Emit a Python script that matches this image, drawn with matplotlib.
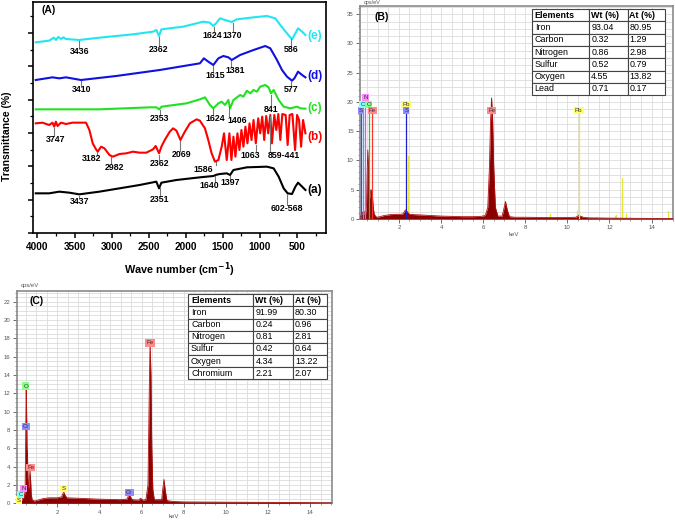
import numpy as np
import matplotlib
matplotlib.use("Agg")
import matplotlib.pyplot as plt
from matplotlib.ticker import MultipleLocator

plt.rcParams['font.family'] = ['Liberation Sans', 'DejaVu Sans']

# ---------------- Panel A : FTIR data ----------------
wn_a = [4023, 3842, 3706, 3571, 3436, 3165, 2894, 2623, 2397, 2361, 2329, 2126, 1810, 1629, 1584,
        1539, 1448, 1403, 1358, 1177, 907, 816, 748, 681, 627, 568, 523, 487, 432, 387]
tr_a = [11.9, 11.9, 12.4, 12.1, 11.6, 12.4, 13.4, 14.4, 15.4, 13.4, 15.1, 15.9, 16.7, 17.1, 17.5,
        17.7, 17.9, 17.4, 18.9, 19.7, 19.9, 19.4, 16.9, 13.4, 11.9, 11.7, 13.9, 15.1, 13.9, 12.9]

wn_b = [4023, 3932, 3842, 3797, 3774, 3752, 3729, 3684, 3616, 3526, 3345, 3300, 3255, 3210, 3187,
        3142, 3097, 3029, 2984, 2894, 2803, 2713, 2623, 2532, 2442, 2406, 2361, 2329, 2284, 2216,
        2171, 2126, 2072, 2013, 1945, 1855, 1810, 1742, 1697, 1652, 1607, 1561, 1516, 1485, 1448,
        1412, 1385, 1358, 1331, 1304, 1277, 1250, 1223, 1196, 1169, 1141, 1114, 1087, 1056, 1024,
        997, 970, 943, 916, 889, 861, 839, 807, 780, 753, 726, 699, 654, 627, 600, 563, 527, 500,
        473, 446, 419, 387]
tr_b = [32.9, 33.1, 32.4, 33.1, 31.9, 33.4, 32.1, 33.1, 32.7, 33.1, 33.1, 30.9, 26.9, 25.1, 24.4,
        25.9, 25.4, 23.4, 22.9, 23.7, 23.9, 24.4, 24.1, 24.1, 25.1, 26.1, 23.9, 25.9, 27.9, 30.4,
        31.4, 30.7, 27.9, 30.4, 32.9, 34.1, 33.7, 31.4, 27.9, 23.9, 21.4, 21.9, 25.9, 29.9, 21.9,
        29.9, 21.9, 28.9, 22.9, 29.9, 24.9, 30.9, 25.9, 31.9, 26.9, 32.9, 27.9, 33.9, 26.9, 34.4,
        29.9, 34.9, 27.9, 35.1, 29.9, 35.4, 26.9, 35.4, 30.9, 35.7, 27.9, 35.7, 35.4, 26.4, 35.4,
        35.7, 24.9, 35.4, 33.9, 25.9, 33.9, 29.9]

wn_c = [4023, 3165, 2487, 2397, 2361, 2325, 2261, 1990, 1810, 1742, 1674, 1629, 1561, 1516, 1471,
        1426, 1403, 1358, 1268, 1223, 1177, 1132, 1087, 1042, 997, 929, 884, 852, 816, 748, 681,
        591, 500, 455, 387]
tr_c = [37.1, 37.1, 37.7, 37.7, 37.1, 37.9, 38.1, 38.9, 40.1, 40.7, 38.4, 37.4, 38.9, 39.4, 38.4,
        39.9, 37.4, 39.9, 41.4, 40.9, 42.7, 41.9, 42.9, 42.4, 43.9, 44.4, 43.7, 41.9, 42.9, 39.9, 37.9,
        37.4, 37.9, 37.4, 37.3]

wn_d = [4023, 3797, 3706, 3616, 3413, 2939, 2352, 1810, 1756, 1697, 1629, 1561, 1494, 1426, 1381,
        1268, 1087, 929, 861, 771, 703, 636, 568, 536, 487, 432, 387]
tr_d = [45.9, 46.7, 46.4, 46.7, 45.9, 47.1, 48.9, 50.9, 52.4, 51.4, 50.4, 52.4, 53.1, 52.7, 51.9,
        53.4, 54.9, 56.1, 55.4, 51.9, 48.9, 46.9, 45.7, 46.4, 48.4, 47.4, 46.7]

wn_e = [4023, 3842, 3780, 3750, 3720, 3680, 3650, 3616, 3436, 3165, 2713, 2442, 2397, 2361, 2329,
        2036, 1765, 1674, 1629, 1584, 1539, 1471, 1381, 1313, 1087, 907, 794, 726, 636, 568, 523,
        487, 432, 387]
tr_e = [57.2, 57.7, 58.6, 57.9, 58.8, 58.2, 58.7, 58.2, 57.9, 58.6, 59.6, 60.4, 60.9, 59.1, 61.1,
        61.9, 63.4, 63.1, 62.1, 63.1, 64.4, 63.9, 63.3, 64.1, 64.7, 65.1, 64.4, 62.4, 59.9, 58.1, 59.9,
        61.4, 60.4, 59.4]

curve_names = ['(a)', '(b)', '(c)', '(d)', '(e)']
curve_colors = ['black', '#ff0000', '#22e022', '#1010e0', '#22e5f2']

# (curve index, label, line wavenumber, label wavenumber, label y)
peak_labels = [
    (4, '3436', 3436, 3436, 54.4), (4, '2362', 2362, 2362, 55.1), (4, '1624', 1624, 1640, 59.4),
    (4, '1370', 1370, 1370, 59.4), (4, '586', 586, 586, 55.1),
    (3, '3410', 3410, 3410, 43.1), (3, '1615', 1638, 1607, 47.1), (3, '1381', 1394, 1330, 48.7),
    (3, '577', 577, 577, 42.9),
    (2, '2353', 2353, 2353, 34.4), (2, '1624', 1638, 1607, 34.4), (2, '1406', 1412, 1300, 33.7),
    (2, '841', 852, 852, 37.1),
    (1, '3747', 3774, 3752, 27.9), (1, '3182', 3201, 3264, 22.4), (1, '2982', 3006, 2961, 19.6),
    (1, '2362', 2361, 2352, 20.9), (1, '2069', 2075, 2058, 23.6), (1, '1586', 1590, 1770, 19.2),
    (1, '1063', 1056, 1132, 23.4), (1, '859-441', 861, 681, 23.4),
    (0, '3437', 3437, 3437, 9.4), (0, '2351', 2351, 2351, 10.1), (0, '1640', 1600, 1683, 14.4),
    (0, '1397', 1403, 1403, 15.1), (0, '602-568', 636, 636, 7.4),
]

# ---------------- Panel B : EDS spectrum ----------------
kev_b = [0.15, 0.20, 0.25, 0.28, 0.32, 0.36, 0.39, 0.42, 0.46, 0.49, 0.52, 0.55, 0.58, 0.62, 0.66,
         0.70, 0.74, 0.78, 0.82, 0.88, 0.95, 1.1, 1.3, 1.6, 1.9, 2.1, 2.2, 2.28, 2.33, 2.4, 2.5, 2.7,
         3.0, 3.5, 4.0, 4.5, 5.0, 5.5, 5.9, 6.1, 6.22, 6.3, 6.35, 6.40, 6.45, 6.5, 6.58, 6.7, 6.9,
         6.97, 7.06, 7.15, 7.25, 7.5, 8.0, 9.0, 10.0, 10.4, 10.5, 10.55, 10.62, 10.75, 11.0, 12.0,
         13.0, 14.0, 15.0]
cps_b = [0.3, 0.6, 0.9, 1.2, 0.8, 1.0, 1.4, 1.0, 2.5, 8.0, 11.8, 9.0, 4.5, 3.5, 5.0,
         4.9, 3.8, 2.0, 0.9, 0.5, 0.3, 0.4, 0.6, 0.75, 0.8, 0.8, 0.9, 1.4, 1.6, 1.2, 0.8, 0.75,
         0.7, 0.6, 0.5, 0.45, 0.4, 0.4, 0.45, 0.6, 2.0, 9.0, 16.5, 20.7, 17.0, 9.0, 2.0, 0.5, 0.5,
         1.5, 3.0, 1.5, 0.4, 0.3, 0.3, 0.25, 0.25, 0.3, 0.5, 0.6, 0.5, 0.3, 0.2, 0.15,
         0.12, 0.1, 0.08]

# element markers in B: (label, keV, label height, box colour, line colour, draw line)
marks_b = [('S', 0.20, 18.6, '#8c8cff', '#4040ff', True), ('C', 0.27, 19.6, '#80ffff', '#00c8e0', True),
           ('N', 0.41, 20.7, '#ff88ff', '#ff40ff', True), ('O', 0.56, 19.6, '#88ff88', '#20d020', True),
           ('Fe', 0.73, 18.6, '#ff8888', '#ff3030', True), ('Pb', 2.35, 19.6, '#ffff66', None, False),
           ('S', 2.35, 18.6, '#8c8cff', '#2020d0', True), ('Fe', 6.41, 18.6, '#ff8888', None, False),
           ('Pb', 10.54, 18.6, '#ffff66', '#e8e840', True)]
# small yellow (Pb) reference lines: keV, height
pb_lines_kev = [1.83, 2.45, 2.52, 2.68, 3.1, 3.2, 9.18, 10.45, 11.35, 12.25, 12.31, 12.6, 12.62, 12.8, 13.0, 14.76]
pb_lines_h = [0.8, 10.7, 0.5, 0.5, 0.4, 0.4, 0.9, 1.3, 0.3, 0.5, 0.7, 4.5, 7.0, 0.9, 0.4, 1.4]

table_b_rows = [['Iron', '93.04', '80.95'], ['Carbon', '0.32', '1.29'], ['Nitrogen', '0.86', '2.98'],
                ['Sulfur', '0.52', '0.79'], ['Oxygen', '4.55', '13.82'], ['Lead', '0.71', '0.17']]

# ---------------- Panel C : EDS spectrum ----------------
kev_c = [0.07, 0.20, 0.26, 0.30, 0.36, 0.39, 0.43, 0.47, 0.50, 0.52, 0.54, 0.56, 0.58, 0.60, 0.63,
         0.67, 0.70, 0.73, 0.76, 0.80, 0.90, 1.0, 1.3, 1.6, 2.0, 2.2, 2.27, 2.31, 2.36, 2.45, 3.0,
         4.0, 5.0, 5.3, 5.38, 5.42, 5.47, 5.55, 5.85, 5.95, 6.05, 6.2, 6.3, 6.36, 6.40, 6.44, 6.48,
         6.53, 6.6, 6.95, 7.0, 7.06, 7.12, 7.2, 7.5, 8.0, 10.0, 12.0, 15.0]
cps_c = [0.1, 0.2, 0.5, 0.3, 0.6, 1.0, 0.6, 1.5, 8.0, 12.7, 10.0, 6.0, 5.5, 3.0, 1.5,
         2.5, 3.6, 2.5, 1.0, 0.4, 0.25, 0.3, 0.5, 0.6, 0.6, 0.7, 1.1, 1.2, 0.9, 0.6, 0.55,
         0.45, 0.4, 0.45, 0.85, 0.9, 0.7, 0.4, 0.35, 0.55, 0.35, 0.4, 2.0, 12.0, 17.6, 14.0, 6.0,
         1.5, 0.4, 0.4, 1.5, 2.6, 1.4, 0.3, 0.2, 0.15, 0.12, 0.1, 0.05]

marks_c = [('S', 0.18, 0.35, '#ffff66'), ('C', 0.26, 1.0, '#80ffff'), ('N', 0.39, 1.6, '#ff88ff'),
           ('Fe', 0.73, 3.9, '#ff8888'), ('Cr', 0.51, 8.4, '#8c8cff'), ('O', 0.51, 12.8, '#88ff88'),
           ('S', 2.29, 1.6, '#ffff66'), ('Cr', 5.42, 1.2, '#8c8cff'), ('Fe', 6.40, 17.5, '#ff8888')]

table_c_rows = [['Iron', '91.99', '80.30'], ['Carbon', '0.24', '0.96'], ['Nitrogen', '0.81', '2.81'],
                ['Sulfur', '0.42', '0.64'], ['Oxygen', '4.34', '13.22'], ['Chromium', '2.21', '2.07']]
table_header = ['Elements', 'Wt (%)', 'At (%)']

# =====================================================
W, H = 675, 520
fig = plt.figure(figsize=(W / 100, H / 100), dpi=100)


def ax_px(l, t, r, b):
    return fig.add_axes([l / W, 1 - b / H, (r - l) / W, (b - t) / H])


# ---------------- Panel A ----------------
axA = ax_px(33, 2, 326, 233)
wns = [wn_a, wn_b, wn_c, wn_d, wn_e]
trs = [tr_a, tr_b, tr_c, tr_d, tr_e]
for i in range(5):
    axA.plot(wns[i], trs[i], color=curve_colors[i], lw=1.5, solid_joinstyle='round')
axA.set_xlim(4060, 110)
axA.set_ylim(0, 69.3)
axA.xaxis.set_major_locator(MultipleLocator(500))
axA.xaxis.set_minor_locator(MultipleLocator(250))
axA.yaxis.set_major_locator(MultipleLocator(10))
axA.yaxis.set_minor_locator(MultipleLocator(5))
axA.set_xticks([4000, 3500, 3000, 2500, 2000, 1500, 1000, 500])
axA.set_yticklabels([])
axA.tick_params(axis='x', which='major', length=3.5, width=1.1, labelsize=7.2, pad=3)
axA.tick_params(axis='both', which='minor', length=2, width=0.9)
axA.tick_params(axis='y', which='major', length=3.5, width=1.1)
for lab in axA.get_xticklabels():
    lab.set_fontweight('bold')
for s in axA.spines.values():
    s.set_linewidth(1.2)
axA.set_xlabel('Wave number (cm$^{\\mathbf{-1}}$)', fontsize=7.8, fontweight='bold', labelpad=6)
axA.set_ylabel('Transmittance (%)', fontsize=7.5, fontweight='bold')
axA.yaxis.set_label_coords(-0.07, 0.42)
axA.text(0.03, 0.965, '(A)', transform=axA.transAxes, fontsize=7.5, fontweight='bold', va='center')

label_y = [12.9, 28.9, 37.5, 47.0, 59.1]
for i in range(5):
    axA.text(262, label_y[i], curve_names[i], color=curve_colors[i], fontsize=8.5,
             fontweight='bold', va='center', ha='center')

for ci, txt, wl, wt, ly in peak_labels:
    wv = wns[ci][::-1]
    tv = trs[ci][::-1]
    yc = np.interp(wl, wv, tv) - 0.4
    axA.plot([wl, wl], [yc, ly + 1.1], color='#777777', lw=0.8)
    axA.text(wt, ly, txt, fontsize=6.3, fontweight='bold', ha='center', va='center')


# ---------------- EDS helper ----------------
def style_eds(ax, ymax, ymajor, yminor, ygrid, xlo):
    ax.set_xlim(xlo, 15.02)
    ax.set_ylim(0, ymax)
    ax.xaxis.set_major_locator(MultipleLocator(2))
    ax.xaxis.set_minor_locator(MultipleLocator(0.5))
    ax.yaxis.set_major_locator(MultipleLocator(ymajor))
    ax.yaxis.set_minor_locator(MultipleLocator(yminor))
    for x in np.arange(0.5, 15.0, 0.5):
        ax.axvline(x, color='#dcdcdc', lw=0.6, zorder=0)
    for y in np.arange(ygrid, ymax, ygrid):
        ax.axhline(y, color='#dcdcdc', lw=0.6, zorder=0)
    ax.tick_params(axis='both', which='major', labelsize=4.3, length=3, width=0.6,
                   colors='#555555', pad=1.5)
    ax.tick_params(axis='both', which='minor', length=1.5, width=0.5, colors='#777777')
    ax.set_xticks([2, 4, 6, 8, 10, 12, 14])
    for s in ax.spines.values():
        s.set_color('#8a8a8a')
        s.set_linewidth(1.2)


def add_table(ax, rows, bbox, colw):
    tb = ax.table(cellText=rows, colLabels=table_header, bbox=bbox, colWidths=colw,
                  cellLoc='left', colLoc='left', zorder=5)
    tb.auto_set_font_size(False)
    tb.set_fontsize(6.4)
    for (r, c), cell in tb.get_celld().items():
        cell.set_edgecolor('#444444')
        cell.set_linewidth(0.8)
        cell.set_facecolor('white')
        cell.PAD = 0.05
        if r == 0:
            cell.get_text().set_fontweight('bold')
    return tb


def box(ax, x, y, txt, fc):
    ax.text(x, y, txt, fontsize=4.4, ha='center', va='center', color='#333333', zorder=6,
            bbox=dict(boxstyle='square,pad=0.18', fc=fc, ec='none'))


# ---------------- Panel B ----------------
axB = ax_px(360, 6, 673, 219)
style_eds(axB, 36.4, 5, 1, 1.25, 0.15)
for k, h in zip(pb_lines_kev, pb_lines_h):
    axB.plot([k, k], [0, h], color='#e6e63a', lw=0.9, zorder=2)
axB.fill_between(kev_b, cps_b, color='#8b0000', lw=0, zorder=3)
axB.plot(kev_b, cps_b, color='#b01010', lw=0.6, zorder=3)
for txt, k, hy, fc, lc, line in marks_b:
    if line:
        axB.plot([k, k], [0, hy - 0.4], color=lc, lw=0.9, zorder=4)
    box(axB, k, hy, txt, fc)
axB.text(0.012, 1.004, 'cps/eV', transform=axB.transAxes, fontsize=4.0, color='#555555', va='bottom')
axB.text(0.045, 0.95, '(B)', transform=axB.transAxes, fontsize=7.5, fontweight='bold', va='center')
axB.text(0.49, -0.06, 'keV', transform=axB.transAxes, fontsize=4.3, color='#555555', ha='center', va='top')
add_table(axB, table_b_rows, [0.549, 0.582, 0.425, 0.403], [0.432, 0.288, 0.280])

# ---------------- Panel C ----------------
axC = ax_px(16.7, 290.7, 331.7, 503.3)
style_eds(axC, 23.2, 2, 0.5, 0.5, 0.07)
axC.fill_between(kev_c, cps_c, color='#8b0000', lw=0, zorder=3)
axC.plot(kev_c, cps_c, color='#b01010', lw=0.6, zorder=3)
for txt, k, hy, fc in marks_c:
    box(axC, k, hy, txt, fc)
axC.text(0.012, 1.012, 'cps/eV', transform=axC.transAxes, fontsize=4.3, color='#555555', va='bottom')
axC.text(0.04, 0.95, '(C)', transform=axC.transAxes, fontsize=7.5, fontweight='bold', va='center')
axC.text(0.50, -0.05, 'keV', transform=axC.transAxes, fontsize=4.3, color='#555555', ha='center', va='top')
add_table(axC, table_c_rows, [0.543, 0.583, 0.441, 0.400], [0.472, 0.288, 0.240])

fig.savefig('out.png', dpi=100)
